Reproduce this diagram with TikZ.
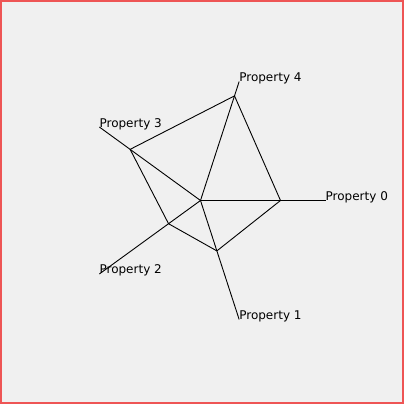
\documentclass[tikz,border=0pt]{standalone}
\usepackage{fontspec}
\setmainfont{DejaVu Sans}
\definecolor{bgc}{HTML}{F0F0F0}
\definecolor{bordc}{HTML}{EE5555}
\begin{document}
\begin{tikzpicture}[x=1pt,y=1pt,
  axisline/.style={draw=black, line width=0.9pt},
  polyline/.style={draw=black, line width=0.9pt, line join=round},
  lbl/.style={anchor=base west, inner sep=0pt, font=\fontsize{12}{14}\selectfont}]
\useasboundingbox (0,0) rectangle (404,404);
\fill[bgc] (0,0) rectangle (404,404);
\draw[bordc, line width=2pt] (1,1) rectangle (403,403);
\coordinate (c) at (200.5,203.5);
\foreach \i/\a/\r in {0/0/80,1/-72/53,2/-144/39.5,3/144/87,4/72/110} {
  \coordinate (e\i) at ({200.5+125*cos(\a)},{203.5+125*sin(\a)});
  \coordinate (v\i) at ({200.5+\r*cos(\a)},{203.5+\r*sin(\a)});
  \node[lbl] (l\i) at (e\i) {Property \i};
  \draw[axisline] (c) -- (e\i);
}
\draw[polyline] (v0) -- (v1) -- (v2) -- (v3) -- (v4) -- cycle;
\end{tikzpicture}
\end{document}
